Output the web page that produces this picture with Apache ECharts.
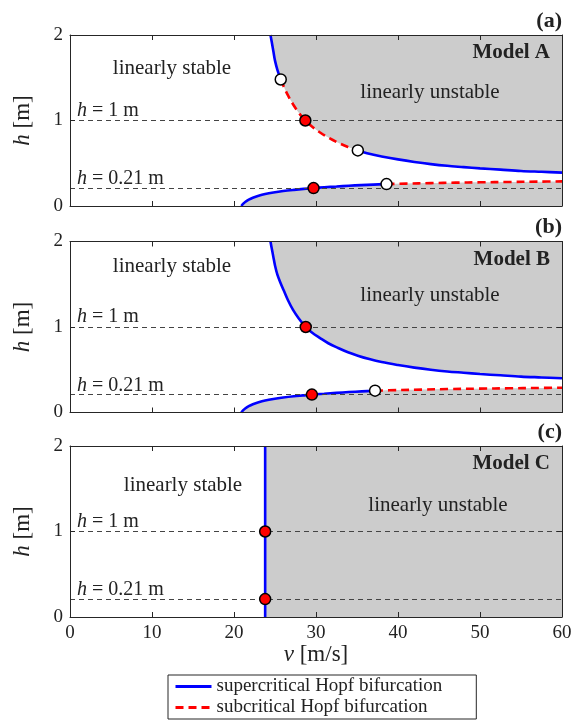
<!DOCTYPE html>
<html>
<head>
<meta charset="utf-8">
<script src="https://cdn.jsdelivr.net/npm/echarts@6/dist/echarts.min.js"></script>
<style>
html,body{margin:0;padding:0;background:#fff;}
#c{width:578px;height:720px;}
</style>
</head>
<body>
<div id="c"></div>
<script>
// ---------- data ----------
const vTicks = [0, 60, 10];      // min, max, interval  (v [m/s])
const hTicks = [0, 2, 1];        // min, max, interval  (h [m])
const refLevels = [1, 0.21];     // dashed reference heights

// Model A
const aUpperSuperTop = [[24.45,2.0],[24.6,1.92],[24.8,1.81],[25.0,1.70],[25.3,1.59],[25.7,1.48]];
const aUpperSub = [[25.7,1.48],[26.1,1.39],[26.6,1.29],[27.2,1.19],[27.9,1.09],[28.7,1.0],[29.5,0.93],[30.5,0.86],[31.5,0.80],[32.7,0.74],[33.9,0.69],[35.1,0.65]];
const aUpperSuperTail = [[35.1,0.65],[36.5,0.61],[38,0.58],[40,0.545],[42,0.515],[44,0.49],[46,0.47],[48,0.455],[50,0.44],[52.5,0.425],[55,0.41],[57.5,0.40],[60,0.39]];
const aLowerSuper = [[20.9,0],[21.1,0.025],[21.4,0.05],[21.8,0.075],[22.3,0.097],[23,0.12],[23.8,0.14],[24.8,0.158],[26,0.175],[27.3,0.189],[28.5,0.2],[29.7,0.21],[31,0.219],[32.5,0.228],[34,0.237],[35.5,0.244],[37,0.25],[38.6,0.256]];
const aLowerSub = [[38.6,0.256],[41,0.262],[44,0.268],[47,0.273],[50,0.277],[53.5,0.281],[57,0.285],[60,0.288]];
const aRedDots = [[28.7,1.0],[29.7,0.21]];
const aWhiteDots = [[25.7,1.48],[35.1,0.65],[38.6,0.256]];

// Model B
const bUpperSuper = [[24.45,2.0],[24.6,1.92],[24.8,1.82],[25.0,1.72],[25.3,1.61],[25.7,1.51],[26.1,1.42],[26.6,1.31],[27.2,1.2],[27.9,1.1],[28.75,1.0],[29.5,0.935],[30.5,0.87],[31.5,0.81],[32.7,0.755],[33.9,0.705],[35.1,0.665],[36.5,0.625],[38,0.59],[40,0.555],[42,0.525],[44,0.5],[46,0.48],[48,0.465],[50,0.45],[52.5,0.435],[55,0.42],[57.5,0.41],[60,0.40]];
const bLowerSuper = [[20.9,0],[21.1,0.025],[21.4,0.05],[21.8,0.075],[22.3,0.097],[23,0.12],[23.8,0.14],[24.8,0.158],[26,0.175],[27.3,0.19],[28.4,0.2],[29.5,0.21],[31,0.22],[32.5,0.23],[34,0.239],[35.6,0.247],[37.2,0.255]];
const bLowerSub = [[37.2,0.255],[40,0.262],[43,0.268],[46,0.274],[50,0.279],[53.5,0.283],[57,0.287],[60,0.29]];
const bRedDots = [[28.75,1.0],[29.5,0.21]];
const bWhiteDots = [[37.2,0.255]];

// Model C
const cCritical = [[23.8,0],[23.8,2]];
const cUnstable = [[23.8,2],[60,2]];
const cRedDots = [[23.8,1.0],[23.8,0.21]];

// Text
const panelTags = ['(a)','(b)','(c)'];
const modelNames = ['Model A','Model B','Model C'];
const legendNames = ['supercritical Hopf bifurcation','subcritical Hopf bifurcation'];

// ---------- styling ----------
const FONT = 'Liberation Serif';
const INK = '#262626';
const BLUE = '#0000ff';
const RED = '#ff0000';
const GREY = '#cccccc';
const tops = [35, 241.5, 446];
const PH = 171;

const chart = echarts.init(document.getElementById('c'), null, {renderer:'canvas'});

const grids = tops.map(t => ({left:70, right:16, top:t, height:PH}));
const xAxes = [], yAxes = [];
for (let pos of ['bottom','top']) {
  for (let i = 0; i < 3; i++) {
    const isNamed = (pos === 'bottom' && i === 2);
    xAxes.push({
      gridIndex:i, type:'value', position:pos,
      min:vTicks[0], max:vTicks[1], interval:vTicks[2], z:10,
      axisLine:{show:true, onZero:false, lineStyle:{color:INK, width:1}},
      axisTick:{show:true, inside:true, length:5, lineStyle:{color:INK, width:1}},
      axisLabel:{show:isNamed, margin:7, color:'#222', fontFamily:FONT, fontSize:19},
      splitLine:{show:false},
      name: isNamed ? '{i|v} [m/s]' : '',
      nameLocation:'middle', nameGap:26,
      nameTextStyle:{color:'#222', fontFamily:FONT, fontSize:23,
        rich:{i:{fontStyle:'italic', fontFamily:FONT, fontSize:23, color:'#222'}}}
    });
  }
}
for (let pos of ['left','right']) {
  for (let i = 0; i < 3; i++) {
    const isLeft = pos === 'left';
    yAxes.push({
      gridIndex:i, type:'value', position:pos,
      min:hTicks[0], max:hTicks[1], interval:hTicks[2], z:10,
      axisLine:{show:true, onZero:false, lineStyle:{color:INK, width:1}},
      axisTick:{show:true, inside:true, length:5, lineStyle:{color:INK, width:1}},
      axisLabel:{show:isLeft, margin:7, color:'#222', fontFamily:FONT, fontSize:19},
      splitLine:{show:false},
      name: isLeft ? '{i|h} [m]' : '',
      nameLocation:'middle', nameGap:36, nameRotate:90,
      nameTextStyle:{color:'#222', fontFamily:FONT, fontSize:23,
        rich:{i:{fontStyle:'italic', fontFamily:FONT, fontSize:23, color:'#222'}}}
    });
  }
}

const SM = 0.35;
function fill(i, data, origin, smooth) {
  return {type:'line', xAxisIndex:i, yAxisIndex:i, data:data, smooth:smooth, 
    symbol:'none', silent:true, z:1, lineStyle:{width:0, opacity:0},
    areaStyle:{color:GREY, opacity:1, origin:origin}};
}
function refs(i) {
  return {type:'line', xAxisIndex:i, yAxisIndex:i, data:[], z:2, silent:true,
    markLine:{silent:true, symbol:'none', animation:false, label:{show:false},
      lineStyle:{color:'#444', width:1, type:[5,4]},
      data: refLevels.map(v => ({yAxis:v}))}};
}
function sup(i, data, smooth) {
  return {type:'line', name:legendNames[0], xAxisIndex:i, yAxisIndex:i, data:data,
    smooth:smooth, symbol:'none', showSymbol:false, z:3,
    lineStyle:{color:BLUE, width:2.6, type:'solid'}, itemStyle:{color:BLUE}};
}
function sub(i, data, smooth) {
  return {type:'line', name:legendNames[1], xAxisIndex:i, yAxisIndex:i, data:data,
    smooth:smooth, symbol:'none', showSymbol:false, z:3,
    lineStyle:{color:RED, width:2.6, type:[8,5]}, itemStyle:{color:RED}};
}
function dots(i, data, color) {
  return {type:'scatter', xAxisIndex:i, yAxisIndex:i, data:data, symbol:'circle', symbolSize:11, z:5,
    itemStyle:{color:color, borderColor:'#000', borderWidth:1.5, opacity:1}};
}

const aUpperAll = aUpperSuperTop.concat(aUpperSub.slice(1), aUpperSuperTail.slice(1));
const aLowerAll = aLowerSuper.concat(aLowerSub.slice(1));
const bLowerAll = bLowerSuper.concat(bLowerSub.slice(1));

const series = [
  // Panel A
  fill(0, aUpperAll, 'end', SM), fill(0, aLowerAll, 'start', SM), refs(0),
  sup(0, aUpperSuperTop, SM), sub(0, aUpperSub, SM), sup(0, aUpperSuperTail, SM),
  sup(0, aLowerSuper, SM), sub(0, aLowerSub, SM),
  dots(0, aRedDots, RED), dots(0, aWhiteDots, '#ffffff'),
  // Panel B
  fill(1, bUpperSuper, 'end', SM), fill(1, bLowerAll, 'start', SM), refs(1),
  sup(1, bUpperSuper, SM), sup(1, bLowerSuper, SM), sub(1, bLowerSub, SM),
  dots(1, bRedDots, RED), dots(1, bWhiteDots, '#ffffff'),
  // Panel C
  fill(2, cUnstable, 'start', false), refs(2),
  sup(2, cCritical, false),
  dots(2, cRedDots, RED)
];

// text annotations
const graphics = [];
const txt = (x, y, text, size, align, weight, rich) => graphics.push({
  type:'text', x:x, y:y, silent:true, z:20,
  style:{text:text, fontFamily:FONT, fontSize:size, fontWeight:weight||'normal', fill:'#222',
    textAlign:align, textVerticalAlign:'middle', rich:rich}
});
const hRich = {i:{fontStyle:'italic', fontFamily:FONT, fontSize:20, fill:'#222'},
               n:{fontFamily:FONT, fontSize:20, fill:'#222'}};
const stableX = [172, 172, 183], stableDy = [33, 25, 39];
const unstX = [430, 430, 438], unstDy = [57, 53.5, 59];
for (let i = 0; i < 3; i++) {
  const t = tops[i];
  txt(562, t - 14, panelTags[i], 22, 'right', 'bold');
  txt(550, t + 18, modelNames[i], 21, 'right', 'bold');
  txt(stableX[i], t + stableDy[i], 'linearly stable', 21, 'center');
  txt(unstX[i], t + unstDy[i], 'linearly unstable', 21, 'center');
  txt(77, t + 75.5, '{i|h}{n| = 1 m}', 20, 'left', 'normal', hRich);
  txt(77, t + 144, '{i|h}{n| = 0.21 m}', 20, 'left', 'normal', hRich);
}

chart.setOption({
  animation:false,
  backgroundColor:'#ffffff',
  grid:grids, xAxis:xAxes, yAxis:yAxes, series:series,
  graphic:graphics,
  legend:{
    data:legendNames, orient:'vertical', left:168, top:675,
    backgroundColor:'#fff', borderColor:INK, borderWidth:1,
    padding:[2,34,2,6], itemGap:2, itemWidth:36, itemHeight:14,
    selectedMode:false,
    itemStyle:{opacity:0},
    lineStyle:{width:3},
    textStyle:{fontFamily:FONT, fontSize:19, color:'#222'}
  }
});
</script>
</body>
</html>
